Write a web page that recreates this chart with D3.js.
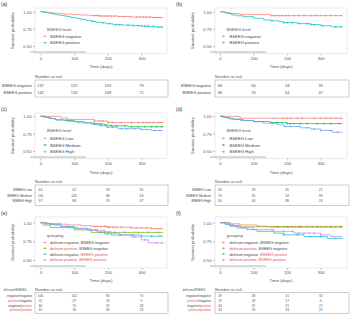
<!DOCTYPE html>
<html><head><meta charset="utf-8">
<script src="https://cdn.jsdelivr.net/npm/d3@7"></script>
<style>body{margin:0;background:#fff}svg{display:block}text{font-family:"Liberation Sans",Arial,sans-serif}</style>
</head><body><svg id="c" width="350" height="316"></svg>
<script>
// ---------- DATA ----------
const xTicks = [0, 100, 200, 300];
const yTicks = [0.5, 0.75, 1.0];
const yTickLabels = ["0.50", "0.75", "1.00"];
const riskTimes = [0, 100, 200, 300];
const endDay = 365;

// (a)
const aGroups = ["BSEEG negative", "BSEEG positive"];
const aNegSteps = [[0,1],[12,0.993],[25,0.986],[40,0.979],[55,0.972],[70,0.965],[95,0.958],[120,0.951],[145,0.944],[175,0.937],[230,0.93],[270,0.922],[330,0.915]];
const aPosSteps = [[0,1],[8,0.993],[15,0.986],[22,0.979],[30,0.972],[38,0.965],[45,0.958],[52,0.951],[60,0.944],[70,0.937],[80,0.93],[90,0.916],[105,0.902],[120,0.888],[135,0.874],[150,0.86],[165,0.846],[180,0.839],[195,0.825],[215,0.811],[245,0.804],[275,0.797],[300,0.79],[325,0.783],[345,0.776]];
const aNegCens = [160,168,176,184,192,200,210,220,235,250,265,285,295,305,315,325,335,345,355];
const aPosCens = [155,185,205,225,235,260,275,290,300,310,320,335,350,360];
const aRiskNeg = [137, 129, 109, 79];
const aRiskPos = [142, 126, 108, 71];

// (b)
const bGroups = ["BSEEG negative", "BSEEG positive"];
const bNegSteps = [[0,1],[15,0.986],[30,0.972],[60,0.958],[150,0.943]];
const bPosSteps = [[0,1],[10,0.988],[20,0.976],[35,0.952],[50,0.94],[70,0.928],[100,0.904],[130,0.88],[150,0.868],[175,0.855],[190,0.84],[230,0.826],[270,0.812],[300,0.797],[330,0.78]];
const bNegCens = [155,165,175,185,195,205,220,235,250,270,285,300,315,330,345,360];
const bPosCens = [155,190,200,215,235,260,270,280,305,345,360];
const bRiskNeg = [68, 66, 58, 39];
const bRiskPos = [86, 76, 64, 47];

// (c)
const cGroups = ["BSEEG Low", "BSEEG Medium", "BSEEG High"];
const cLowSteps = [[0,1],[60,0.977],[80,0.955],[160,0.932],[200,0.91]];
const cMedSteps = [[0,1],[15,0.983],[30,0.966],[45,0.949],[70,0.94],[100,0.923],[130,0.906],[160,0.889],[190,0.872],[210,0.862],[260,0.85]];
const cHighSteps = [[0,1],[10,0.99],[25,0.969],[45,0.948],[80,0.927],[110,0.906],[150,0.885],[175,0.864],[195,0.843],[230,0.822],[300,0.81],[330,0.795]];
const cLowCens = [160,175,185,200,215,240,270,290,305,315,325,335,350,360];
const cMedCens = [160,170,180,195,210,225,250,270,290,310,330,345,360];
const cHighCens = [165,180,200,215,240,255,280,300,315,340,355];
const cRiskLow = [44, 42, 33, 30];
const cRiskMed = [116, 105, 86, 63];
const cRiskHigh = [97, 88, 76, 47];

// (d)
const dGroups = ["BSEEG Low", "BSEEG Medium", "BSEEG High"];
const dLowSteps = [[0,1],[60,0.972]];
const dMedSteps = [[0,1],[10,0.985],[25,0.97],[40,0.955],[70,0.94],[100,0.925],[150,0.91],[200,0.895]];
const dHighSteps = [[0,1],[10,0.98],[30,0.96],[60,0.94],[100,0.92],[130,0.9],[170,0.878],[190,0.853],[240,0.835],[270,0.817],[300,0.795],[335,0.77]];
const dLowCens = [160,190,200,210,230,245,280,300,315,330,345,360];
const dMedCens = [155,170,185,200,210,220,240,260,290,310,330,355];
const dHighCens = [160,195,210,235,260,280,300,330,350];
const dRiskLow = [36, 33, 31, 21];
const dRiskMed = [70, 65, 53, 39];
const dRiskHigh = [50, 44, 38, 26];

// (e)
const eGroups = ["delirium negative, BSEEG negative", "delirium positive, BSEEG negative", "delirium negative, BSEEG positive", "delirium positive, BSEEG positive"];
const eRowLabels = ["negative/negative", "positive/negative", "negative/positive", "positive/positive"];
const eNNSteps = [[0,1],[20,0.99],[60,0.98],[80,0.97],[120,0.96],[150,0.95],[200,0.94],[270,0.93],[330,0.92]];
const ePNSteps = [[0,1],[8,0.968],[30,0.935],[100,0.903],[150,0.87]];
const eNPSteps = [[0,1],[15,0.987],[30,0.975],[60,0.95],[100,0.925],[140,0.9],[170,0.875],[190,0.85],[210,0.835],[300,0.82]];
const ePPSteps = [[0,1],[15,0.984],[40,0.968],[60,0.952],[85,0.935],[110,0.918],[150,0.9],[190,0.88],[210,0.86],[235,0.835],[270,0.81],[300,0.77],[320,0.73]];
const eNNCens = [160,170,180,190,195,200,205,215,225,240,270,285,300,315,330,345,355];
const ePNCens = [180,220,250,290,320,350];
const eNPCens = [165,200,235,275,300,330,355];
const ePPCens = [165,190,240,280,310,345,360];
const eRisk = [[106,102,83,70],[31,27,26,9],[80,70,59,48],[62,56,49,23]];

// (f)
const fNNSteps = [[0,1],[20,0.985],[60,0.97],[110,0.955],[140,0.945]];
const fPNSteps = [[0,1],[30,0.96],[60,0.945]];
const fNPSteps = [[0,1],[15,0.977],[30,0.953],[50,0.93],[80,0.907],[110,0.884],[160,0.86],[190,0.837],[250,0.814],[320,0.79]];
const fPPSteps = [[0,1],[20,0.977],[40,0.953],[60,0.93],[100,0.907],[160,0.884],[220,0.86],[300,0.837],[330,0.815]];
const fNNCens = [160,175,190,205,215,225,235,245,260,275,290,300,315,330,345,360];
const fPNCens = [170,200,240,290,330,360];
const fNPCens = [190,230,270,300,345];
const fPPCens = [155,190,215,235,250,265,280,300];
const fRisk = [[49,48,41,32],[19,18,17,6],[43,37,31,27],[43,39,33,20]];

// ---------- LAYOUT ----------
const RED = "#F8766D", TEAL = "#00BFC4", GREEN = "#00BA38", BLUE = "#619CFF", GREEN4 = "#7CAE00", PURPLE = "#C77CFF";
const cols = [
  {lab:1, box:[35,167], x0:40.5, x300:141.5, ylab:14, rowR:32, tab:[35,168], mk:45, tx:50},
  {lab:176, box:[215,347], x0:220, x300:320.7, ylab:194, rowR:211, tab:[215,349], mk:223.5, tx:229.5}
];
const rows = [
  {lab:6, box:[8,53.5], y1:11.7, y05:46, tickY:61.5, titleY:67.5, legT:29.5, leg0:36.3, legS:6.4, gray:52, nar:77.5, tab:[80,97], r0:86.5, rS:7, rf:4},
  {lab:111, box:[113,158.5], y1:116.3, y05:151, tickY:166.5, titleY:173.5, legT:130, leg0:138.3, legS:6.7, gray:157, nar:183, tab:[185,205.5], r0:191, rS:5.5, rf:3.4},
  {lab:215, box:[217,268], y1:222.7, y05:260, tickY:274.5, titleY:281.5, legT:235.5, leg0:242.5, legS:5.8, gray:266, nar:290.5, tab:[292.5,313.5], r0:297.3, rS:4.6, rf:3.2}
];

const panels = [
  {label:"(a)", c:0, r:0, legTitle:"BSEEG level",
   series:[{steps:aNegSteps,cens:aNegCens,col:RED},{steps:aPosSteps,cens:aPosCens,col:TEAL}],
   legend:aGroups.map(g=>[[g,"#444"]]), rowLabels:aGroups.map(g=>[[g,"#444"]]), risk:[aRiskNeg,aRiskPos]},
  {label:"(b)", c:1, r:0, legTitle:"BSEEG level",
   series:[{steps:bNegSteps,cens:bNegCens,col:RED},{steps:bPosSteps,cens:bPosCens,col:TEAL}],
   legend:bGroups.map(g=>[[g,"#444"]]), rowLabels:bGroups.map(g=>[[g,"#444"]]), risk:[bRiskNeg,bRiskPos]},
  {label:"(c)", c:0, r:1, legTitle:"BSEEG level",
   series:[{steps:cLowSteps,cens:cLowCens,col:RED},{steps:cMedSteps,cens:cMedCens,col:GREEN},{steps:cHighSteps,cens:cHighCens,col:BLUE}],
   legend:cGroups.map(g=>[[g,"#444"]]), rowLabels:cGroups.map(g=>[[g,"#444"]]), risk:[cRiskLow,cRiskMed,cRiskHigh]},
  {label:"(d)", c:1, r:1, legTitle:"BSEEG level",
   series:[{steps:dLowSteps,cens:dLowCens,col:RED},{steps:dMedSteps,cens:dMedCens,col:GREEN},{steps:dHighSteps,cens:dHighCens,col:BLUE}],
   legend:dGroups.map(g=>[[g,"#444"]]), rowLabels:dGroups.map(g=>[[g,"#444"]]), risk:[dRiskLow,dRiskMed,dRiskHigh]},
];
const PINK = "#E8505B";
const eLegend = [
  [["delirium negative, BSEEG negative","#444"]],
  [["delirium positive",PINK],[", BSEEG negative","#444"]],
  [["delirium negative, ","#444"],["BSEEG positive",PINK]],
  [["delirium positive, BSEEG positive",PINK]]
];
const eRowParts = [
  [["negative/negative","#444"]],
  [["positive",PINK],["/negative","#444"]],
  [["negative/","#444"],["positive",PINK]],
  [["positive/positive",PINK]]
];
panels.push({label:"(e)", c:0, r:2, legTitle:"grouping",
  series:[{steps:eNNSteps,cens:eNNCens,col:RED},{steps:ePNSteps,cens:ePNCens,col:GREEN4},{steps:eNPSteps,cens:eNPCens,col:TEAL},{steps:ePPSteps,cens:ePPCens,col:PURPLE}],
  legend:eLegend, rowLabels:eRowParts, risk:eRisk, header:"delirium/BSEEG"});
panels.push({label:"(f)", c:1, r:2, legTitle:"grouping",
  series:[{steps:fNNSteps,cens:fNNCens,col:RED},{steps:fPNSteps,cens:fPNCens,col:GREEN4},{steps:fNPSteps,cens:fNPCens,col:TEAL},{steps:fPPSteps,cens:fPPCens,col:PURPLE}],
  legend:eLegend, rowLabels:eRowParts, risk:fRisk, header:"delirium/BSEEG"});

const svg = d3.select("#c");
const TXT = "#555";

function richText(g, x, y, parts, size, anchor){
  const t = g.append("text").attr("x",x).attr("y",y).attr("font-size",size).attr("text-anchor",anchor||"start");
  parts.forEach(p=>t.append("tspan").attr("fill",p[1]).text(p[0]));
  return t;
}

function survAt(steps, t){let s=1;for(const p of steps){if(p[0]<=t)s=p[1];}return s;}

panels.forEach(P=>{
  const C = cols[P.c], R = rows[P.r];
  const g = svg.append("g");
  const x = d3.scaleLinear().domain([0,300]).range([C.x0, C.x300]);
  const y = d3.scaleLinear().domain([0.5,1]).range([R.y05, R.y1]);

  g.append("text").attr("x",C.lab).attr("y",R.lab).attr("font-size",5).attr("fill","#333").text(P.label);

  g.append("rect").attr("x",C.box[0]).attr("y",R.box[0]).attr("width",C.box[1]-C.box[0]).attr("height",R.box[1]-R.box[0])
    .attr("fill","none").attr("stroke","#d6d6d6").attr("stroke-width",0.5);

  const xa = g.append("g").attr("transform",`translate(0,${R.box[1]})`)
    .call(d3.axisBottom(x).tickValues(xTicks).tickSize(2).tickPadding(1.5).tickFormat(d3.format("d")));
  xa.select(".domain").remove();
  xa.selectAll("line").attr("stroke","#666").attr("stroke-width",0.4);
  xa.selectAll("text").attr("font-size",4.2).attr("fill",TXT).attr("font-family","Liberation Sans, Arial, sans-serif");
  const ya = g.append("g").attr("transform",`translate(${C.box[0]},0)`)
    .call(d3.axisLeft(y).tickValues(yTicks).tickSize(2).tickPadding(1.5).tickFormat((d,i)=>yTickLabels[i]));
  ya.select(".domain").remove();
  ya.selectAll("line").attr("stroke","#666").attr("stroke-width",0.4);
  ya.selectAll("text").attr("font-size",4.2).attr("fill",TXT).attr("font-family","Liberation Sans, Arial, sans-serif");

  g.append("text").attr("x",(C.box[0]+C.box[1])/2).attr("y",R.titleY).attr("text-anchor","middle").attr("font-size",4.4).attr("fill",TXT).text("Time (days)");
  const ymid = (R.box[0]+R.box[1])/2;
  g.append("text").attr("transform",`translate(${C.ylab},${ymid}) rotate(-90)`).attr("text-anchor","middle").attr("font-size",4.4).attr("fill",TXT).text("Survival probability");

  P.series.forEach(S=>{
    const line = d3.line().curve(d3.curveStepAfter).x(d=>x(d[0])).y(d=>y(d[1]));
    const pts = S.steps.concat([[endDay, S.steps[S.steps.length-1][1]]]);
    g.append("path").attr("d",line(pts)).attr("fill","none").attr("stroke",S.col).attr("stroke-width",0.7);
    S.cens.forEach(t=>{
      const cx=x(t), cy=y(survAt(S.steps,t));
      g.append("path").attr("d",`M${cx-1},${cy}H${cx+1}M${cx},${cy-1}V${cy+1}`).attr("stroke",S.col).attr("stroke-width",0.5);
    });
  });

  g.append("line").attr("x1",C.box[0]-5).attr("x2",C.box[0]+51).attr("y1",R.gray).attr("y2",R.gray).attr("stroke","#aaa").attr("stroke-width",0.9);

  g.append("text").attr("x",C.tx-3).attr("y",R.legT+1.5).attr("font-size",4.2).attr("fill",TXT).text(P.legTitle);
  P.legend.forEach((parts,i)=>{
    const yy = R.leg0 + i*R.legS;
    const col = P.series[i].col;
    g.append("path").attr("d",`M${C.mk-1.8},${yy}H${C.mk+1.8}M${C.mk},${yy-1}V${yy+1}`).attr("stroke",col).attr("stroke-width",0.6);
    richText(g, C.tx, yy+1.5, parts, P.r===2?3.8:4.2);
  });

  g.append("text").attr("x",C.tab[0]).attr("y",R.nar).attr("font-size",4.2).attr("fill",TXT).text("Number at risk");
  if(P.header) g.append("text").attr("x",C.rowR-17).attr("y",R.nar).attr("text-anchor","middle").attr("font-size",3.2).attr("fill",TXT).text(P.header);
  g.append("rect").attr("x",C.tab[0]).attr("y",R.tab[0]).attr("width",C.tab[1]-C.tab[0]).attr("height",R.tab[1]-R.tab[0])
    .attr("fill","none").attr("stroke","#999").attr("stroke-width",0.5);
  P.risk.forEach((vals,i)=>{
    const yy = R.r0 + i*R.rS;
    richText(g, C.rowR, yy, P.rowLabels[i], R.rf, "end");
    vals.forEach((v,j)=>{
      g.append("text").attr("x",x(riskTimes[j])).attr("y",yy).attr("text-anchor","middle").attr("font-size",R.rf).attr("fill",TXT).text(v);
    });
  });
});
</script></body></html>
